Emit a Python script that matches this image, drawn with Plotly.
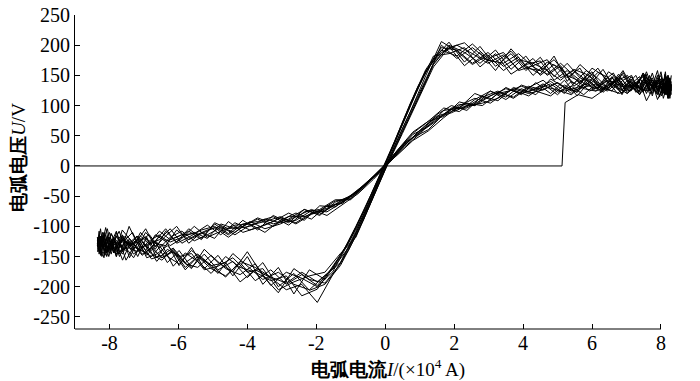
import plotly.graph_objects as go

# Current samples (×10^4 A): two sampling grids for falling and rising half-cycles
I_down_a = [8.30, 8.26, 8.20, 8.12, 8.02, 7.90, 7.75, 7.58, 7.38, 7.15,
            6.90, 6.62, 6.32, 6.00, 5.65, 5.28, 4.90, 4.50, 4.08, 3.65,
            3.20, 2.75, 2.30, 1.85, 1.40, 0.95, 0.50, 0.05, -0.40, -0.85,
            -1.30, -1.75, -2.20, -2.65, -3.10, -3.55, -4.00, -4.42, -4.85, -5.25,
            -5.62, -5.98, -6.32, -6.63, -6.92, -7.18, -7.42, -7.62, -7.80, -7.95,
            -8.08, -8.18, -8.26, -8.32]
I_up_a = [-8.35, -8.30, -8.24, -8.16, -8.06, -7.94, -7.80, -7.63, -7.43, -7.20,
          -6.95, -6.67, -6.37, -6.05, -5.70, -5.33, -4.95, -4.55, -4.13, -3.70,
          -3.25, -2.80, -2.35, -1.90, -1.45, -1.00, -0.55, -0.10, 0.35, 0.80,
          1.25, 1.70, 2.15, 2.60, 3.05, 3.50, 3.95, 4.37, 4.80, 5.20,
          5.57, 5.93, 6.27, 6.58, 6.87, 7.13, 7.37, 7.57, 7.75, 7.90,
          8.03, 8.13, 8.21, 8.27]
I_down_b = [8.28, 8.23, 8.16, 8.07, 7.96, 7.83, 7.67, 7.48, 7.27, 7.03,
            6.77, 6.48, 6.17, 5.83, 5.47, 5.09, 4.70, 4.29, 3.87, 3.43,
            2.98, 2.53, 2.08, 1.63, 1.18, 0.73, 0.28, -0.17, -0.62, -1.07,
            -1.52, -1.97, -2.42, -2.87, -3.32, -3.77, -4.21, -4.63, -5.05, -5.44,
            -5.80, -6.15, -6.48, -6.78, -7.05, -7.30, -7.52, -7.71, -7.88, -8.02,
            -8.13, -8.22, -8.29, -8.34]
I_up_b = [-8.33, -8.27, -8.20, -8.11, -8.00, -7.87, -7.72, -7.54, -7.33, -7.10,
          -6.84, -6.55, -6.24, -5.90, -5.54, -5.16, -4.77, -4.36, -3.93, -3.49,
          -3.04, -2.59, -2.14, -1.69, -1.24, -0.79, -0.34, 0.12, 0.57, 1.02,
          1.47, 1.92, 2.37, 2.82, 3.27, 3.72, 4.16, 4.58, 5.00, 5.40,
          5.76, 6.11, 6.44, 6.74, 7.02, 7.27, 7.49, 7.69, 7.86, 8.00,
          8.12, 8.20, 8.26, 8.30]

# Arc ignition: zero voltage, then the jump
I_ign = [-9.0, 5.13, 5.22, 5.60, 6.00, 6.40, 6.80, 7.20, 7.60, 7.90, 8.10, 8.25, 8.30]
U_ign = [0, 0, 105, 118, 112, 128, 120, 132, 125, 138, 128, 135, 130]

# Arc voltage (V) on grid a: falling half-cycles
U_down_a = [
    [118, 145, 112, 138, 122, 150, 126, 108, 140, 128,
     155, 132, 160, 138, 146, 170, 148, 180, 158, 186,
     165, 198, 172, 205, 176, 132, 72, 10, -46, -100, -150, -188,
     -172, -212, -168, -196, -150, -182, -148, -170, -135, -165, -128, -152,
     -118, -150, -124, -142, -110, -146, -120, -136, -104, -130],
    [135, 120, 126, 152, 116, 132, 142, 120, 148, 136,
     124, 154, 140, 128, 162, 146, 168, 150, 182, 160,
     192, 170, 188, 200, 168, 112, 56, 2, -58, -116, -165, -196,
     -206, -178, -200, -160, -185, -158, -172, -146, -168, -140, -160, -130,
     -148, -126, -152, -115, -138, -128, -150, -118, -140, -126],
    [126, 138, 150, 118, 132, 124, 146, 134, 118, 150,
     142, 128, 150, 162, 136, 158, 142, 174, 168, 152,
     186, 164, 196, 186, 182, 128, 68, 6, -52, -108, -160, -182,
     -205, -196, -176, -188, -166, -145, -178, -156, -140, -162, -150, -126,
     -144, -138, -120, -146, -132, -112, -140, -130, -148, -118],
    [130, 112, 136, 128, 146, 120, 130, 156, 128, 140,
     130, 148, 126, 156, 140, 150, 176, 158, 162, 190,
     172, 180, 204, 196, 164, 108, 54, 0, -60, -118, -145, -176,
     -182, -192, -205, -170, -176, -152, -166, -172, -145, -150, -138, -158,
     -130, -142, -136, -118, -150, -126, -134, -140, -116, -132],
    [140, 116, 132, 150, 124, 110, 138, 146, 118, 132,
     158, 136, 122, 150, 168, 140, 182, 152, 166, 194,
     158, 188, 166, 198, 170, 116, 62, 5, -55, -112, -162, -194,
     -188, -170, -210, -182, -142, -175, -160, -138, -170, -152, -132, -146,
     -152, -122, -130, -156, -128, -112, -144, -134, -122, -138],
]
# Arc voltage (V) on grid a: rising half-cycles
U_up_a = [
    [-130, -108, -148, -120, -104, -140, -116, -134, -100, -128,
     -118, -138, -108, -126, -104, -120, -96, -112, -90, -106,
     -82, -94, -72, -82, -60, -50, -30, -5, 24, 52,
     66, 92, 96, 120, 110, 130, 118,
     138, 120, 142, 116, 140, 124, 148, 118, 144, 128, 152, 116, 146, 125, 156, 112, 138],
    [-128, -116, -136, -152, -120, -126, -142, -106, -120, -136,
     -110, -128, -132, -106, -122, -112, -102, -118, -100, -88,
     -100, -84, -84, -74, -58, -54, -28, -4, 18, 42,
     58, 80, 100, 112, 104, 122, 132,
     124, 116, 134, 122, 144, 130, 124, 152, 132, 122, 148, 130, 118, 142, 134, 116, 130],
    [-132, -118, -128, -114, -142, -125, -108, -138, -128, -116,
     -132, -124, -104, -128, -118, -106, -100, -114, -96, -92,
     -84, -98, -76, -72, -56, -56, -30, -8, 26, 56,
     74, 96, 90, 110, 124, 114, 134,
     126, 136, 120, 142, 124, 134, 146, 126, 140, 124, 142, 132, 158, 122, 140, 128, 134],
    [-124, -142, -118, -132, -116, -128, -146, -122, -130, -118,
     -140, -114, -125, -118, -108, -122, -94, -104, -100, -86,
     -96, -88, -72, -80, -64, -50, -31, -5, 23, 47,
     60, 86, 102, 100, 116, 128, 120,
     128, 140, 124, 130, 138, 122, 140, 132, 124, 144, 136, 120, 142, 130, 148, 120, 136],
    [-118, -146, -126, -110, -136, -122, -150, -114, -132, -124,
     -104, -134, -116, -100, -128, -110, -120, -92, -110, -102,
     -92, -78, -90, -66, -68, -48, -29, -3, 26, 54,
     74, 82, 106, 100, 124, 110, 128,
     118, 144, 130, 122, 150, 126, 136, 120, 148, 130, 124, 154, 126, 136, 120, 150, 128],
]
# Arc voltage (V) on grid b: falling half-cycles
U_down_b = [
    [128, 112, 142, 125, 118, 136, 148, 122, 138, 130,
     152, 128, 145, 158, 136, 162, 172, 150, 180, 165,
     188, 170, 192, 196, 160, 104, 42, -16, -74, -126, -168, -198,
     -180, -196, -172, -190, -160, -182, -170, -150, -172, -142, -152, -136,
     -146, -128, -140, -132, -122, -150, -126, -116, -138, -124],
    [122, 140, 130, 112, 146, 128, 120, 150, 132, 142,
     126, 146, 155, 134, 150, 170, 152, 164, 186, 170,
     175, 196, 178, 200, 140, 86, 30, -28, -88, -140, -180, -226,
     -196, -205, -185, -172, -192, -160, -165, -150, -168, -140, -152, -134,
     -148, -130, -125, -150, -120, -138, -130, -114, -136, -120],
    [132, 124, 148, 120, 136, 126, 150, 130, 122, 150,
     142, 135, 162, 142, 158, 146, 176, 166, 158, 188,
     178, 202, 182, 192, 156, 100, 40, -20, -80, -128, -175, -200,
     -186, -176, -198, -162, -180, -170, -148, -168, -162, -138, -156, -146,
     -126, -152, -136, -142, -118, -132, -148, -124, -130, -142],
    [126, 136, 118, 144, 130, 124, 140, 154, 128, 134,
     148, 130, 138, 152, 160, 142, 158, 170, 176, 158,
     184, 168, 190, 206, 150, 90, 34, -24, -84, -136, -170, -192,
     -176, -194, -184, -168, -158, -184, -164, -146, -160, -136, -148, -154,
     -132, -146, -126, -136, -124, -134, -144, -118, -128, -134],
    [120, 146, 128, 136, 114, 140, 124, 152, 134, 120,
     144, 156, 128, 146, 132, 166, 150, 178, 160, 184,
     170, 186, 200, 188, 158, 102, 40, -18, -76, -128, -166, -204,
     -215, -182, -190, -176, -168, -150, -178, -158, -144, -166, -130, -150,
     -140, -134, -156, -124, -144, -118, -138, -150, -126, -128],
]
# Arc voltage (V) on grid b: rising half-cycles
U_up_b = [
    [-120, -138, -126, -102, -132, -142, -118, -124, -136, -110,
     -128, -108, -122, -114, -112, -98, -114, -94, -106, -98,
     -86, -94, -78, -70, -60, -44, -20, 6, 34, 60, 82, 90,
     104, 100, 120, 126, 116,
     132, 126, 118, 136, 128, 142, 120, 134, 150, 126, 132, 142, 120, 136, 128, 146, 124],
    [-124, -136, -110, -128, -144, -118, -130, -122, -110, -138,
     -124, -114, -132, -120, -100, -118, -108, -98, -96, -110,
     -90, -78, -88, -66, -62, -40, -17, 9, 38, 56, 74, 96,
     98, 114, 124, 112, 130,
     142, 122, 132, 118, 136, 128, 144, 124, 130, 154, 126, 138, 150, 124, 118, 140, 130],
    [-134, -120, -128, -114, -140, -126, -108, -136, -130, -116,
     -130, -122, -104, -128, -116, -106, -100, -114, -98, -92,
     -84, -96, -80, -72, -56, -43, -19, 7, 35, 57, 76, 94,
     96, 110, 122, 114, 132,
     126, 138, 120, 142, 124, 132, 146, 128, 138, 124, 142, 130, 156, 122, 140, 126, 134],
    [-126, -144, -120, -134, -118, -128, -146, -124, -132, -120,
     -140, -116, -126, -118, -110, -120, -96, -104, -100, -88,
     -94, -90, -74, -76, -60, -41, -18, 8, 36, 59, 80, 88,
     100, 104, 112, 128, 120,
     126, 138, 124, 130, 136, 124, 138, 132, 126, 142, 134, 122, 140, 130, 146, 122, 136],
    [-138, -116, -132, -126, -110, -144, -128, -116, -140, -122,
     -114, -136, -118, -108, -124, -114, -102, -110, -92, -104,
     -96, -84, -72, -82, -64, -46, -22, 5, 32, 54, 84, 100,
     92, 116, 108, 130, 122,
     136, 118, 140, 128, 124, 146, 130, 120, 138, 148, 124, 134, 144, 118, 138, 130, 150],
]

x_ticks = [-8, -6, -4, -2, 0, 2, 4, 6, 8]
y_ticks = [-250, -200, -150, -100, -50, 0, 50, 100, 150, 200, 250]

LINE = dict(color="black", width=1)
fig = go.Figure()
fig.add_trace(go.Scatter(x=I_ign, y=U_ign, mode="lines", line=LINE, showlegend=False))


def add_cycles(i_down, i_up, u_down_list, u_up_list):
    for ud, uu in zip(u_down_list, u_up_list):
        n1 = min(len(ud), len(i_down))
        n2 = min(len(uu), len(i_up))
        fig.add_trace(go.Scatter(x=i_down[:n1] + i_up[:n2], y=ud[:n1] + uu[:n2],
                                 mode="lines", line=LINE, showlegend=False))


add_cycles(I_down_a, I_up_a, U_down_a, U_up_a)
add_cycles(I_down_b, I_up_b, U_down_b, U_up_b)

SERIF = "Liberation Serif"

# the page body has an 8 px margin, so the figure is 8 px smaller and margins shifted
fig.update_layout(
    width=692, height=373,
    margin=dict(l=67, r=27, t=7, b=52, autoexpand=False),
    paper_bgcolor="white", plot_bgcolor="white",
    font=dict(family=SERIF, size=20, color="black"),
    xaxis=dict(range=[-9, 8.35], tickvals=x_ticks, ticktext=[str(v) for v in x_ticks],
               ticks="inside", ticklen=5, tickcolor="black", tickwidth=1,
               showline=False, showgrid=False, zeroline=False, automargin=False,
               ticklabeloverflow="allow",
               tickfont=dict(family=SERIF, size=20)),
    yaxis=dict(range=[-270, 250], tickvals=y_ticks, ticktext=[str(v) for v in y_ticks],
               ticks="inside", ticklen=5, tickcolor="black", tickwidth=1,
               showline=True, linecolor="black", linewidth=1,
               showgrid=False, zeroline=False, automargin=False,
               ticklabeloverflow="allow",
               tickfont=dict(family=SERIF, size=20)),
    shapes=[dict(type="line", xref="x", yref="paper", x0=-9, x1=8, y0=0, y1=0,
                 line=dict(color="black", width=1))],
    annotations=[
        dict(text="<b>电弧电流</b><i>I</i>/(×10<sup>4</sup> A)", xref="paper", yref="paper",
             x=0.523, y=0, xanchor="center", yanchor="middle", yshift=-39,
             showarrow=False, font=dict(family=SERIF, size=19)),
        dict(text="<b>电弧电压</b><i>U</i>/V", xref="paper", yref="paper",
             x=0, y=0.545, xanchor="center", yanchor="middle", xshift=-56,
             textangle=-90, showarrow=False, font=dict(family=SERIF, size=19)),
    ],
)

fig.write_html("out.html")
